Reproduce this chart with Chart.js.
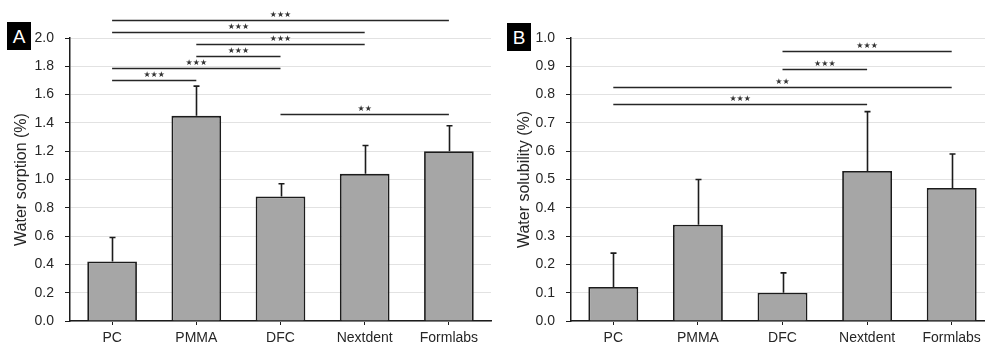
<!DOCTYPE html>
<html>
<head>
<meta charset="utf-8">
<script src="https://cdn.jsdelivr.net/npm/chart.js@4.4.1/dist/chart.umd.min.js"></script>
<style>
  html, body { margin:0; padding:0; background:#fff; overflow:hidden; width:985px; height:347px; }
  #wrap { position:relative; width:985px; height:347px; overflow:hidden; }
  canvas { position:absolute; top:0; }
  #cA { left:0; }
  #cB { left:495px; }
  .tag { position:absolute; background:#000; color:#fff; font:19px "Liberation Sans", Arial, sans-serif;
         width:24px; height:28px; line-height:29px; text-align:center; }
</style>
</head>
<body>
<div id="wrap">
  <canvas id="cA" width="495" height="347"></canvas>
  <canvas id="cB" width="500" height="347"></canvas>
  <div class="tag" style="left:7px;top:22px">A</div>
  <div class="tag" style="left:507px;top:23px">B</div>
</div>
<script>
// ===== DATA =====
const groups = ["PC", "PMMA", "DFC", "Nextdent", "Formlabs"];

const sorption   = [0.42, 1.45, 0.88, 1.04, 1.20];
const sorptionSD = [0.17, 0.21, 0.09, 0.20, 0.18];

const solubility   = [0.12, 0.34, 0.10, 0.53, 0.47];
const solubilitySD = [0.12, 0.16, 0.07, 0.21, 0.12];

// significance brackets: [from group, to group, level (axis units), label]
const sorptionSig = [
  [0, 4, 2.13, "***"],
  [0, 3, 2.045, "***"],
  [1, 3, 1.96, "***"],
  [1, 2, 1.875, "***"],
  [0, 2, 1.79, "***"],
  [0, 1, 1.70, "***"],
  [2, 4, 1.46, "**"]
];
const solubilitySig = [
  [2, 4, 0.954, "***"],
  [2, 3, 0.892, "***"],
  [0, 4, 0.828, "**"],
  [0, 3, 0.768, "***"]
];

const FONT = "'Liberation Sans', Arial, sans-serif";
const INK = "#1c1c1c";

// error bars + significance lines, drawn through the chart's own scales
const extrasPlugin = {
  id: "extras",
  afterDatasetsDraw(chart, _args, opts) {
    const {ctx, scales: {x, y}} = chart;
    const vals = chart.data.datasets[0].data;
    ctx.save();
    ctx.strokeStyle = INK;
    ctx.lineWidth = 1.6;
    vals.forEach((v, i) => {
      const px = Math.round(x.getPixelForValue(i)) + 0.5;
      const y0 = y.getPixelForValue(v);
      const y1 = y.getPixelForValue(v + opts.sd[i]);
      ctx.beginPath();
      ctx.moveTo(px, y0); ctx.lineTo(px, y1);
      ctx.moveTo(px - 3, y1); ctx.lineTo(px + 3, y1);
      ctx.stroke();
    });
    ctx.strokeStyle = "#262626";
    ctx.fillStyle = "#333";
    ctx.font = "8px 'DejaVu Sans'";
    ctx.textAlign = "center";
    ctx.textBaseline = "bottom";
    opts.sig.forEach(([a, b, lvl, lab]) => {
      const xa = x.getPixelForValue(a), xb = x.getPixelForValue(b);
      const py = Math.round(y.getPixelForValue(lvl)) + 0.5;
      ctx.beginPath();
      ctx.moveTo(xa, py); ctx.lineTo(xb, py);
      ctx.stroke();
      ctx.fillText(lab.replace(/\*/g, "\u2605"), (xa + xb) / 2, py - 2);
    });
    ctx.restore();
  }
};

function makeChart(id, values, sd, sig, yMax, step, title, axisW, titlePad, padRight){
  return new Chart(document.getElementById(id), {
    type: "bar",
    data: {
      labels: groups,
      datasets: [{
        data: values,
        backgroundColor: "#a6a6a6",
        borderColor: INK,
        borderWidth: 1.8,
        categoryPercentage: 1,
        barPercentage: 0.59
      }]
    },
    options: {
      responsive: false,
      animation: false,
      layout: {padding: {top: 38, right: padRight, bottom: 0, left: 0}},
      plugins: {
        legend: {display: false},
        tooltip: {enabled: false},
        extras: {sd, sig}
      },
      scales: {
        x: {
          grid: {offset: false, drawOnChartArea: false, drawTicks: true, tickLength: 4, tickColor: INK},
          border: {color: INK, width: 1.5},
          ticks: {color: "#262626", padding: 5, font: {family: FONT, size: 14}},
          afterFit(s){ s.height = 26; }
        },
        y: {
          min: 0, max: yMax,
          grid: {color: "#e2e2e2", lineWidth: 1, tickLength: 5, tickColor: INK},
          border: {color: INK, width: 1.5},
          ticks: {stepSize: step, color: "#262626", padding: 11, font: {family: FONT, size: 14},
                  callback: v => v.toFixed(1)},
          title: {display: true, text: title, color: "#262626", padding: {top: titlePad, bottom: 0},
                  font: {family: FONT, size: 16}},
          afterFit(s){ s.width = axisW; }
        }
      }
    },
    plugins: [extrasPlugin]
  });
}

makeChart("cA", sorption, sorptionSD, sorptionSig, 2.0, 0.2, "Water sorption (%)", 70, 12, 4);
makeChart("cB", solubility, solubilitySD, solubilitySig, 1.0, 0.1, "Water solubility (%)", 76, 20, 1);
</script>
</body>
</html>
